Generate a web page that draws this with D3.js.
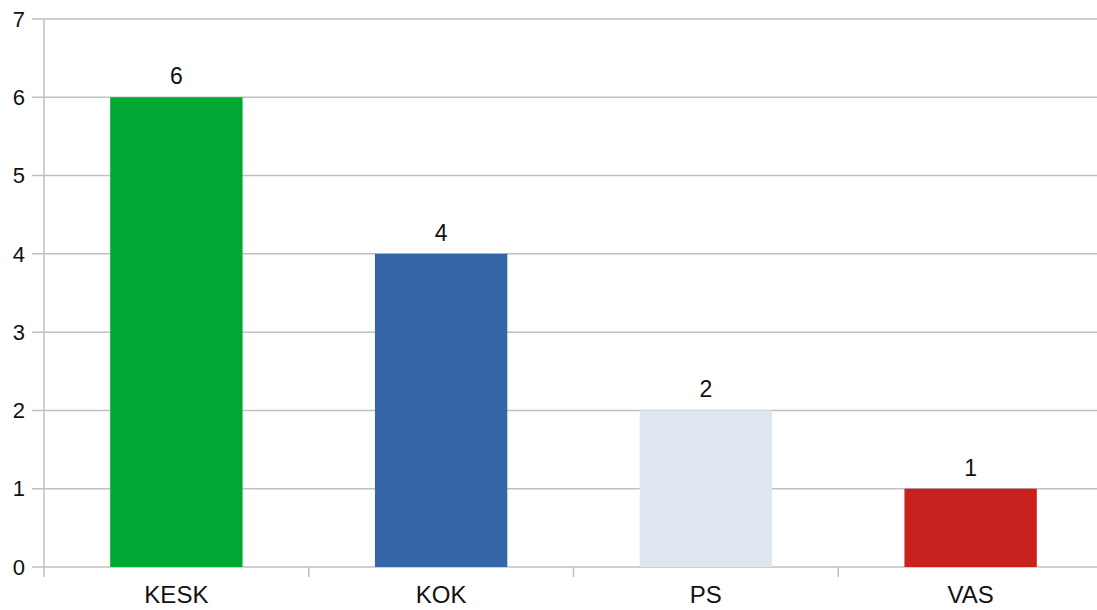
<!DOCTYPE html>
<html>
<head>
<meta charset="utf-8">
<script src="https://cdn.jsdelivr.net/npm/d3@7"></script>
<style>
    html, body { margin: 0; padding: 0; background: #fff; overflow: hidden; }
    svg { display: block; }
</style>
</head>
<body>
<div id="chart"></div>
<script>
var parties = ["KESK", "KOK", "PS", "VAS"];
var seats = [6, 4, 2, 1];
var barColors = ["#00a933", "#3465a4", "#dee6ef", "#c9211e"];
var yTicks = [0, 1, 2, 3, 4, 5, 6, 7];

(function() {
    var width = 1097,
        height = 610;

    var left = 44,
        right = 1103,
        top = 19,
        bottom = 567;

    var svg = d3.select("#chart")
        .append("svg")
        .attr("width", width)
        .attr("height", height)
        .style("font-family", "'Liberation Sans', Arial, sans-serif");

    var x = d3.scaleBand()
        .domain(parties)
        .range([left, right])
        .paddingInner(0.5)
        .paddingOuter(0.25);

    var xOuter = d3.scaleBand()
        .domain(parties)
        .range([left, right]);

    var y = d3.scaleLinear()
        .domain([0, 7])
        .range([bottom, top]);

    // horizontal grid
    svg.append("g")
        .selectAll("line")
        .data(yTicks)
        .enter().append("line")
        .attr("x1", left - 12)
        .attr("x2", width)
        .attr("y1", d => y(d))
        .attr("y2", d => y(d))
        .attr("stroke", "#c0c0c0")
        .attr("stroke-width", 1.5);

    // y axis line
    svg.append("line")
        .attr("x1", left).attr("x2", left)
        .attr("y1", top).attr("y2", bottom + 10)
        .attr("stroke", "#c0c0c0")
        .attr("stroke-width", 1.5);

    // category separators on x axis
    svg.append("g")
        .selectAll("line")
        .data(parties.slice(1))
        .enter().append("line")
        .attr("x1", d => xOuter(d))
        .attr("x2", d => xOuter(d))
        .attr("y1", bottom)
        .attr("y2", bottom + 10)
        .attr("stroke", "#c0c0c0")
        .attr("stroke-width", 1.5);

    // y tick labels
    svg.append("g")
        .selectAll("text")
        .data(yTicks)
        .enter().append("text")
        .attr("x", 25)
        .attr("y", d => y(d))
        .attr("dy", "0.35em")
        .attr("text-anchor", "end")
        .attr("font-size", "22px")
        .attr("fill", "#111")
        .text(d => d);

    // bars
    svg.append("g")
        .selectAll("rect")
        .data(parties)
        .enter().append("rect")
        .attr("x", d => x(d))
        .attr("y", (d, i) => y(seats[i]))
        .attr("width", x.bandwidth())
        .attr("height", (d, i) => y(0) - y(seats[i]))
        .attr("fill", (d, i) => barColors[i]);

    // value labels
    svg.append("g")
        .selectAll("text")
        .data(parties)
        .enter().append("text")
        .attr("x", d => x(d) + x.bandwidth() / 2)
        .attr("y", (d, i) => y(seats[i]) - 13)
        .attr("text-anchor", "middle")
        .attr("font-size", "23px")
        .attr("fill", "#111")
        .text((d, i) => seats[i]);

    // category labels
    svg.append("g")
        .selectAll("text")
        .data(parties)
        .enter().append("text")
        .attr("x", d => x(d) + x.bandwidth() / 2)
        .attr("y", 603)
        .attr("text-anchor", "middle")
        .attr("font-size", "24px")
        .attr("fill", "#111")
        .text(d => d);
})();
</script>
</body>
</html>
